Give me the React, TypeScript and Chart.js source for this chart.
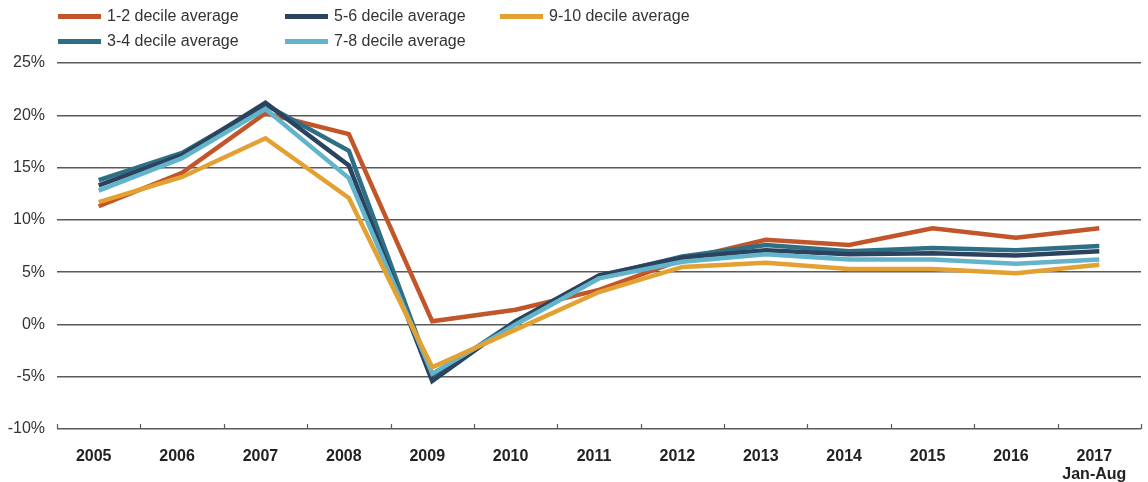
import React, { useEffect, useRef } from "react";
import { Chart, registerables } from "chart.js";

Chart.register(...registerables);

// Category labels (last year is a partial period, shown on two lines)
const years: (string | string[])[] = [
  "2005", "2006", "2007", "2008", "2009", "2010", "2011",
  "2012", "2013", "2014", "2015", "2016", ["2017", "Jan-Aug"],
];

// Annual change by income decile group, in percent
const decile12 = [11.3, 14.5, 20.2, 18.2, 0.3, 1.4, 3.3, 6.2, 8.1, 7.6, 9.2, 8.3, 9.2];
const decile34 = [13.8, 16.4, 21.0, 16.6, -5.0, 0.3, 4.6, 6.5, 7.6, 7.0, 7.3, 7.1, 7.5];
const decile56 = [13.3, 16.2, 21.2, 15.2, -5.4, 0.3, 4.7, 6.4, 7.1, 6.7, 6.8, 6.6, 7.0];
const decile78 = [12.8, 15.9, 20.6, 14.0, -4.7, 0.0, 4.4, 6.0, 6.7, 6.2, 6.2, 5.8, 6.2];
const decile910 = [11.7, 14.1, 17.8, 12.1, -4.1, -0.5, 3.1, 5.5, 5.9, 5.3, 5.3, 4.9, 5.7];

// Y axis range and tick spacing
const yMin = -10;
const yMax = 25;
const yStep = 5;

const seriesNames = [
  "1-2 decile average",
  "3-4 decile average",
  "5-6 decile average",
  "7-8 decile average",
  "9-10 decile average",
];
const seriesValues = [decile12, decile34, decile56, decile78, decile910];
const seriesColors = ["#C2562A", "#2E6F86", "#2C4360", "#62B4CB", "#E3A033"];
// lower order is painted on top
const seriesOrder = [5, 4, 3, 2, 1];

const GRID = "#5a5a5a";
const FONT = "'Liberation Sans', Arial, Helvetica, sans-serif";

// Short upward tick marks on the category boundaries of the x axis
const boundaryTicks = {
  id: "boundaryTicks",
  afterDraw(chart: any) {
    const xs = chart.scales.x;
    const area = chart.chartArea;
    const n = xs.ticks.length;
    if (n < 1) return;
    const step = n > 1 ? xs.getPixelForValue(1) - xs.getPixelForValue(0) : area.right - area.left;
    const ctx = chart.ctx;
    ctx.save();
    ctx.strokeStyle = GRID;
    ctx.lineWidth = 1.2;
    ctx.beginPath();
    for (let i = 0; i <= n; i++) {
      const x = Math.round(xs.getPixelForValue(i) - step / 2) + 0.5;
      ctx.moveTo(x, area.bottom - 5);
      ctx.lineTo(x, area.bottom);
    }
    ctx.stroke();
    ctx.restore();
  },
};

// Legend laid out as three columns, filled top to bottom
const legendColumns: number[][] = [[0, 1], [2, 3], [4]];
const legendColumnLeft = [58, 285, 500];
const legendRowTop = [16, 41];

function Legend() {
  const items: React.ReactNode[] = [];
  legendColumns.forEach((col, ci) => {
    col.forEach((si, ri) => {
      items.push(
        <div
          key={si}
          style={{
            position: "absolute",
            left: legendColumnLeft[ci],
            top: legendRowTop[ri] - 10,
            height: 20,
            display: "flex",
            alignItems: "center",
            whiteSpace: "nowrap",
            font: `16px ${FONT}`,
            color: "#333",
          }}
        >
          <span
            style={{
              display: "inline-block",
              width: 43,
              height: 5,
              background: seriesColors[si],
              marginRight: 6,
            }}
          />
          {seriesNames[si]}
        </div>
      );
    });
  });
  return <>{items}</>;
}

export default function App() {
  const canvasRef = useRef<HTMLCanvasElement | null>(null);

  useEffect(() => {
    if (!canvasRef.current) return;
    const chart = new Chart(canvasRef.current, {
      type: "line",
      data: {
        labels: years,
        datasets: seriesNames.map((name, i) => ({
          label: name,
          data: seriesValues[i],
          borderColor: seriesColors[i],
          backgroundColor: seriesColors[i],
          borderWidth: 4.5,
          pointRadius: 0,
          pointHoverRadius: 0,
          tension: 0,
          borderJoinStyle: "miter" as const,
          borderCapStyle: "butt" as const,
          fill: false,
          order: seriesOrder[i],
        })),
      },
      options: {
        animation: false,
        responsive: false,
        layout: { padding: { top: 63, right: 7, bottom: 0, left: 0 } },
        plugins: {
          legend: { display: false },
          tooltip: { enabled: false },
        },
        scales: {
          x: {
            type: "category",
            offset: true,
            grid: { display: false },
            border: { display: false },
            ticks: {
              color: "#222",
              font: { family: FONT, size: 16, weight: "bold", lineHeight: 1.1 },
              padding: 11,
              labelOffset: -5,
              maxRotation: 0,
              autoSkip: false,
            },
            afterFit(scale: any) {
              scale.height = 53;
            },
          },
          y: {
            min: yMin,
            max: yMax,
            grid: { color: GRID, lineWidth: 1.5, drawTicks: false },
            border: { display: false },
            ticks: {
              stepSize: yStep,
              color: "#333",
              font: { family: FONT, size: 16 },
              padding: 12,
              callback: (v: any) => `${v}%`,
            },
            afterFit(scale: any) {
              scale.width = 57;
            },
          },
        },
      },
      plugins: [boundaryTicks],
    });
    return () => chart.destroy();
  }, []);

  return (
    <div style={{ position: "fixed", left: 0, top: 0, width: 1148, height: 482, background: "#fff" }}>
      <canvas ref={canvasRef} width={1148} height={482} style={{ display: "block" }} />
      <Legend />
    </div>
  );
}
